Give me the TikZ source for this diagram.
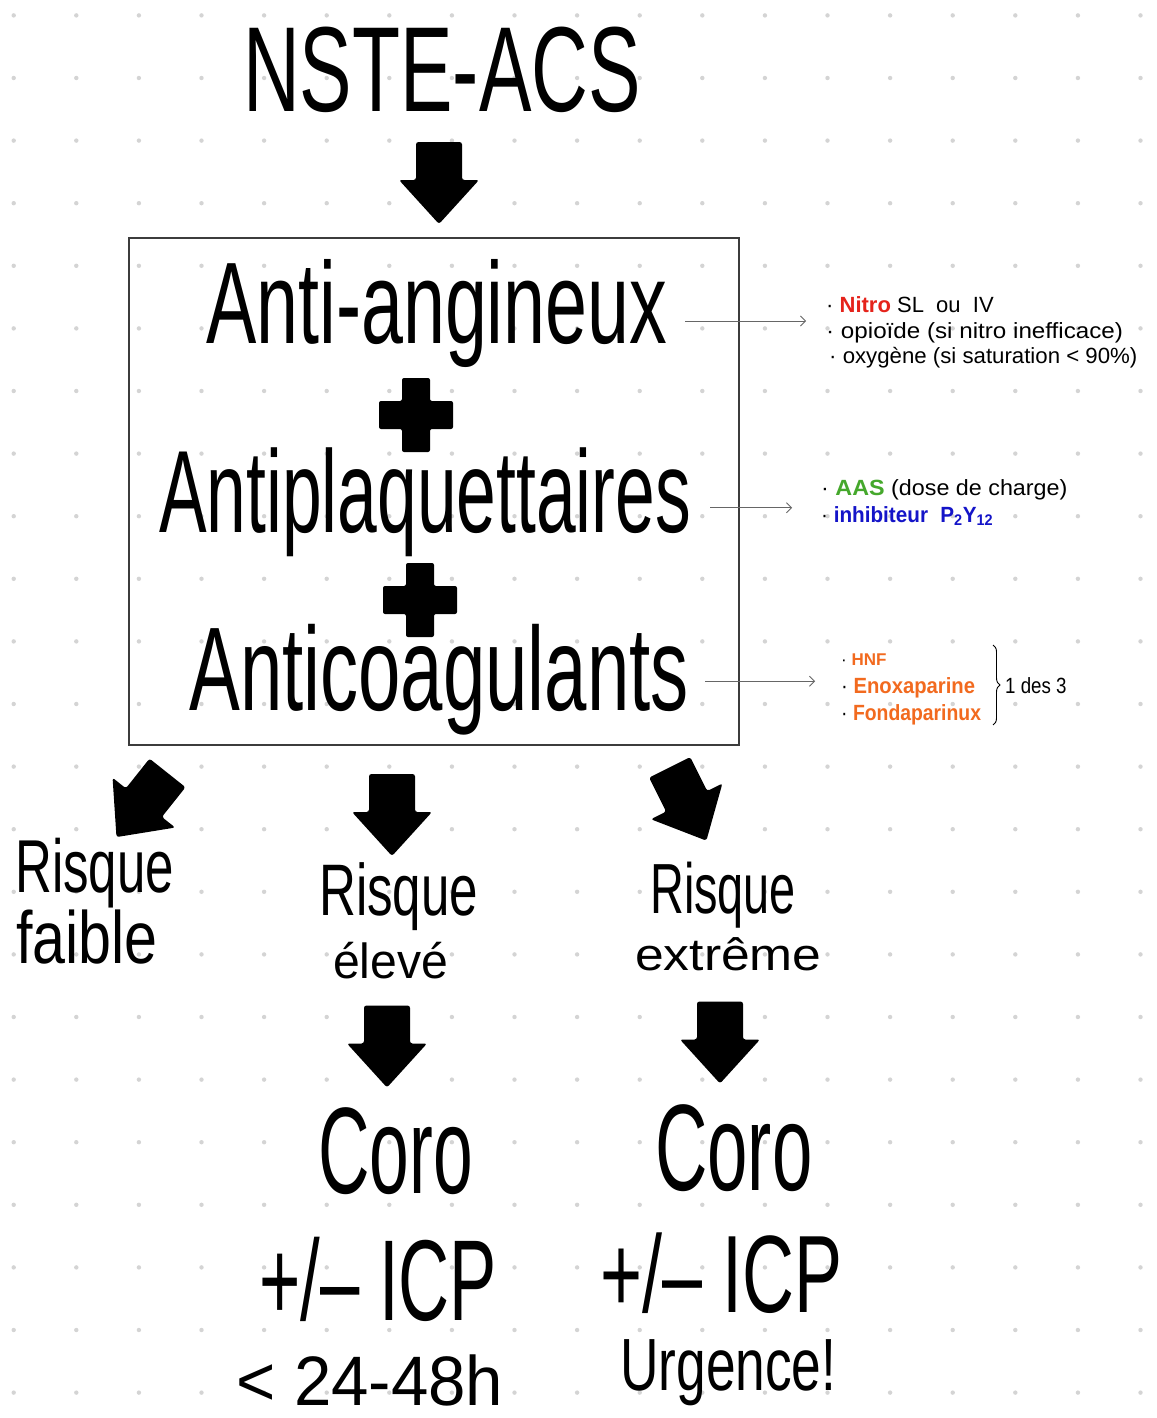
\documentclass[tikz,border=0pt]{standalone}
\usepackage{fontspec}
\setmainfont{Liberation Sans}
\usepackage{graphicx}
\usepackage{tikz}
\usetikzlibrary{arrows.meta,positioning,decorations.pathreplacing}
\definecolor{dotgray}{HTML}{D4D4D4}
\definecolor{boxgray}{HTML}{3C3C3C}
\definecolor{nitrored}{HTML}{E5231B}
\definecolor{aasgreen}{HTML}{45A82C}
\definecolor{inhblue}{HTML}{1414C8}
\definecolor{hnforange}{HTML}{F26A1F}

% handwritten-like text: size, horizontal squeeze, text
\newcommand{\hw}[3]{{\fontsize{#1}{#1}\selectfont\scalebox{#2}[1]{#3}}}
% same, with a vertical factor too
\newcommand{\hwv}[4]{{\fontsize{#1}{#1}\selectfont\scalebox{#2}[#3]{#4}}}
% two stacked lines: line distance, first line, indent, second line
\newcommand{\hwpair}[4]{\vbox{\baselineskip=#1\lineskiplimit=-\maxdimen
  \hbox{#2}\hbox{\hspace{#3}#4}}}
% fat block arrow pointing down, turned by #3
\newcommand{\blockarrow}[3]{%
  \fill[rounded corners=2.5pt,shift={(#1,#2)},rotate=#3]
    (-23,-41) -- (23,-41) -- (23,-3) -- (40,-3) -- (0,41) -- (-40,-3) -- (-23,-3) -- cycle;}
% fat plus sign
\newcommand{\plusmark}[2]{%
  \fill[rounded corners=2pt,shift={(#1,#2)}]
    (-14,-37) -- (14,-37) -- (14,-14) -- (37,-14) -- (37,14) -- (14,14)
    -- (14,37) -- (-14,37) -- (-14,14) -- (-37,14) -- (-37,-14) -- (-14,-14) -- cycle;}

\tikzset{
  hand/.style={inner sep=0pt,anchor=base west},
  note/.style={inner sep=0pt,anchor=base west},
  notearrow/.style={draw=black!60,line width=0.8pt,-{Straight Barb[length=5pt,width=10pt]}},
}

\begin{document}
\begin{tikzpicture}[x=1pt,y=-1pt]
  \useasboundingbox (0,0) rectangle (1156,1418);
  \fill[white] (0,0) rectangle (1156,1418);
  % dotted paper
  \foreach \i in {0,...,18} {
    \foreach \j in {0,...,22} {
      \fill[dotgray] (13.7+62.6*\i,15.4+62.6*\j) circle (2.2);
    }
  }
  % Title
  \node[hand] (title) at (243,112) {\hw{121}{0.65}{NSTE-ACS}};
  \blockarrow{439}{183}{0}
  % Treatment box
  \node[draw=boxgray,line width=1.3pt,minimum width=610pt,minimum height=507pt,inner sep=0pt] (tbox) at (434,491.5) {};
  \node[hand] (angin) at (206,343) {\hw{116}{0.65}{Anti-angineux}};
  \plusmark{416}{415}
  \node[hand] (antiplaq) at (159,532) {\hw{117}{0.61}{Antiplaquettaires}};
  \plusmark{420}{600}
  \node[hand] (anticoag) at (189,710) {\hw{119}{0.64}{Anticoagulants}};
  % Side notes
  \node[note] (nitro) at (826,312) {\hw{22}{1.0}{· \textcolor{nitrored}{\bfseries Nitro} SL\ \ ou\ \ IV}};
  \node[note] (opioid) at (826,338) {\hw{22}{1.1}{· opioïde (si nitro inefficace)}};
  \node[note] (oxygen) at (829,363) {\hw{22}{1.01}{· oxygène (si saturation < 90\%)}};
  \node[note] (aas) at (821,495) {\hw{22}{1.06}{· \textcolor{aasgreen}{\bfseries AAS} (dose de charge)}};
  \node[note] (inhib) at (821,522) {\hw{22}{0.94}{· \textcolor{inhblue}{\bfseries inhibiteur\hspace{0.6em}P\textsubscript{2}Y\textsubscript{12}}}};
  \node[note] (hnf) at (841,665) {\hw{17}{1.0}{· \textcolor{hnforange}{\bfseries HNF}}};
  \node[note] (enox) at (841,693) {\hw{22}{0.92}{· \textcolor{hnforange}{\bfseries Enoxaparine}}};
  \node[note] (fonda) at (841,720) {\hw{22}{0.88}{· \textcolor{hnforange}{\bfseries Fondaparinux}}};
  \coordinate (brtop) at (993,645);
  \coordinate (brbot) at (993,725);
  \draw[line width=0.9pt,decorate,decoration={brace,amplitude=7pt}] (brtop) -- (brbot);
  \node[note] (onein) at (1005,693) {\hw{22}{0.85}{1 des 3}};
  % Thin arrows to notes
  \coordinate (l1) at ([shift={(18,8)}]angin.east);
  \coordinate (l2) at ([shift={(19,6)}]antiplaq.east);
  \coordinate (l3) at ([shift={(16,2)}]anticoag.east);
  \draw[notearrow,shorten >=20pt] (l1) -- (l1 -| nitro.west);
  \draw[notearrow,shorten >=29pt] (l2) -- (l2 -| aas.west);
  \draw[notearrow,shorten >=26pt] (l3) -- (l3 -| enox.west);
  % Risk levels
  \blockarrow{142}{805}{-38.5}
  \blockarrow{392}{815}{0}
  \blockarrow{688}{804}{26.6}
  \node[hand] (low) at (15,963)
    {\hwpair{71pt}{\hw{75}{0.68}{Risque}}{1pt}{\hw{74}{0.80}{faible}}};
  \node[hand] (high) at (319,978)
    {\hwpair{63pt}{\hw{73}{0.70}{Risque}}{14pt}{\hwv{58}{0.83}{0.85}{élevé}}};
  \node[hand] (extreme) at (635,970)
    {\hwpair{57pt}{\hspace{15pt}\hw{71}{0.66}{Risque}}{0pt}{\hwv{58}{0.89}{0.78}{extrême}}};
  % Management
  \blockarrow{387}{1046.5}{0}
  \blockarrow{720}{1042.5}{0}
  \node[hand] (coroa) at (318,1193) {\hw{123}{0.58}{Coro}};
  \node[hand] (icpa) at (259,1320) {\hw{115}{0.615}{+/– ICP}};
  \node[hand] (delay) at (236,1405) {\hw{70}{0.96}{< 24-48h}};
  \node[hand] (corob) at (655,1190) {\hw{123}{0.59}{Coro}};
  \node[hand] (icpb) at (600,1312) {\hw{110}{0.654}{+/– ICP}};
  \node[hand] (urgent) at (620,1390) {\hw{74}{0.72}{Urgence!}};
\end{tikzpicture}
\end{document}
